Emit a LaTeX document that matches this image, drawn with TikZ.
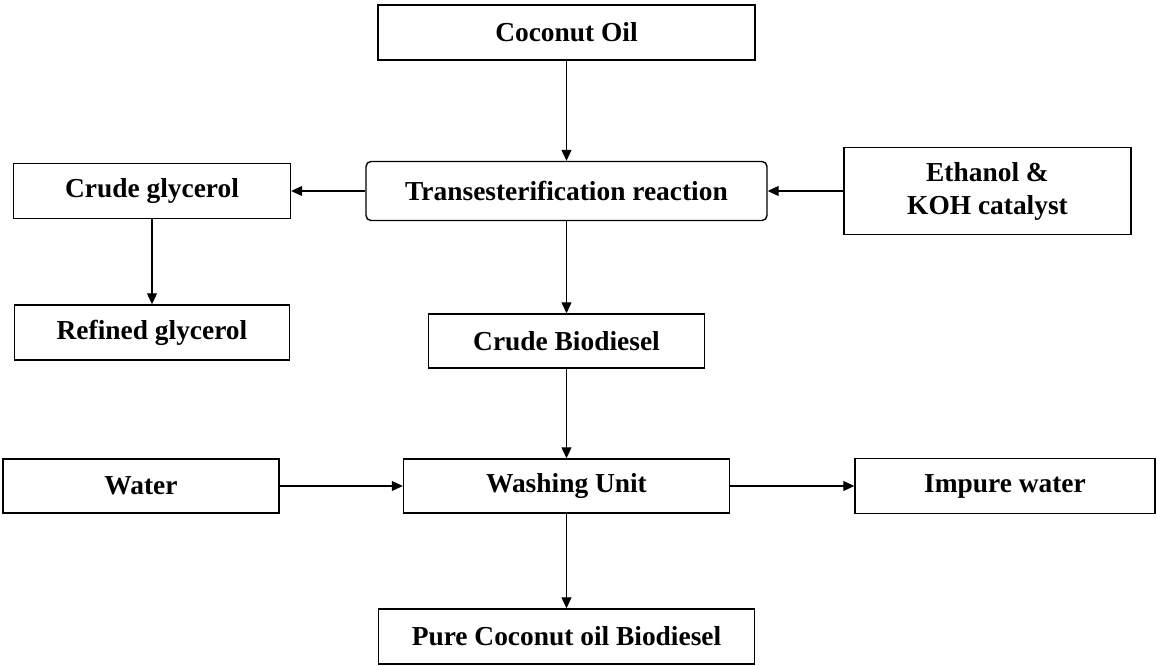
\documentclass[tikz,border=0pt]{standalone}
\usepackage{fontspec}
\setmainfont{Liberation Serif}
\usetikzlibrary{arrows.meta}

\begin{document}
\begin{tikzpicture}[
    block/.style={draw, line width=0.8pt, minimum width=#1, minimum height=1.1cm, inner sep=0pt,
        align=center, font=\fontsize{15.6}{18.8}\selectfont\bfseries},
    roundblock/.style={block=#1, rounded corners=0.1cm},
    flow/.style={-{Triangle[length=0.22cm, width=0.2cm]}, line width=0.6pt}
]
    \useasboundingbox (0, 0) rectangle (23.14, 13.3);

    % main line
    \node[block=7.54cm] (oil) at (11.33, 12.65) {Coconut Oil};
    \node[roundblock=8.02cm, minimum height=1.18cm] (trans) at (11.33, 9.48) {Transesterification reaction};
    \node[block=5.52cm, minimum height=1.08cm] (crude) at (11.33, 6.48) {Crude Biodiesel};
    \node[block=6.52cm, minimum height=1.08cm] (wash) at (11.33, 3.58) {Washing Unit};
    \node[block=7.52cm] (pure) at (11.33, 0.57) {Pure Coconut oil Biodiesel};

    % side streams
    \node[block=5.54cm] (glycerol) at (3.04, 9.48) {Crude glycerol};
    \node[block=5.50cm] (refined) at (3.04, 6.65) {Refined glycerol};
    \node[block=5.74cm, minimum height=1.74cm] (ethanol) at (19.75, 9.48) {Ethanol \&\\KOH catalyst};
    \node[block=5.52cm, minimum height=1.08cm] (water) at (2.82, 3.58) {Water};
    \node[block=6.00cm] (impure) at (20.10, 3.58) {Impure water};

    % connectors
    \draw[flow] (oil) -- (trans);
    \draw[flow] (trans) -- (glycerol);
    \draw[flow] (ethanol) -- (trans);
    \draw[flow] (glycerol) -- (refined);
    \draw[flow] (trans) -- (crude);
    \draw[flow] (crude) -- (wash);
    \draw[flow] (water) -- (wash);
    \draw[flow] (wash) -- (impure);
    \draw[flow] (wash) -- (pure);

\end{tikzpicture}
\end{document}
